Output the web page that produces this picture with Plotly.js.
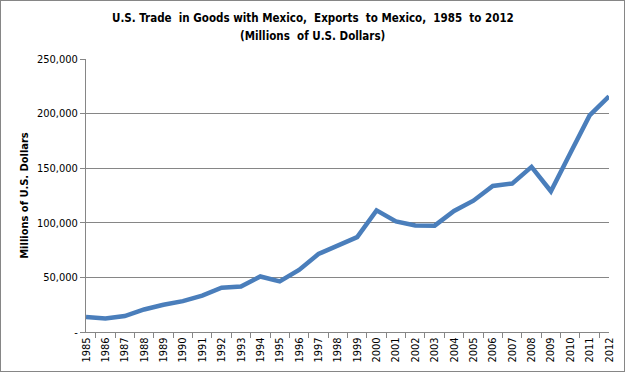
<!DOCTYPE html>
<html>
<head>
<meta charset="utf-8">
<script src="https://cdn.plot.ly/plotly-3.0.1.min.js"></script>
<style>
html,body{margin:0;padding:0;background:#fff;}
#wrap{width:625px;height:372px;box-sizing:border-box;border:1px solid #868686;overflow:hidden;}
#chart{width:623px;height:370px;}
</style>
</head>
<body>
<div id="wrap"><div id="chart"></div></div>
<script>
var years = ["1985","1986","1987","1988","1989","1990","1991","1992","1993","1994","1995","1996","1997","1998","1999","2000","2001","2002","2003","2004","2005","2006","2007","2008","2009","2010","2011","2012"];
var exportsToMexico = [13635,12392,14582,20629,24982,28279,33277,40592,41581,50844,46292,56792,71388,78773,86909,111349,101297,97531,97412,110826,120248,133722,135918,151220,128892,163665,198289,215875];
var yTickVals = [0,50000,100000,150000,200000,250000];
var yTickText = ["-","50,000","100,000","150,000","200,000","250,000"];
var titleLine1 = 'U.S. Trade  in Goods with Mexico,  Exports  to Mexico,  1985  to 2012';
var titleLine2 = '(Millions  of U.S. Dollars)';

var fontFam = '"DejaVu Sans Condensed","Liberation Sans Narrow","Arial Narrow",sans-serif';

var trace = {
  x: years,
  y: exportsToMexico,
  type: 'scatter',
  mode: 'lines',
  line: {color: '#4a7ebb', width: 4.5}
};

var layout = {
  width: 623, height: 370,
  margin: {l: 85, r: 15, t: 58, b: 39},
  paper_bgcolor: '#ffffff',
  plot_bgcolor: '#ffffff',
  showlegend: false,
  annotations: [
    {text: '<b>' + titleLine1 + '</b>', xref: 'paper', yref: 'paper', x: 0.434, y: 1, yshift: 41,
     xanchor: 'center', yanchor: 'middle', showarrow: false,
     font: {family: fontFam, size: 11.5, color: '#000000'}},
    {text: '<b>' + titleLine2 + '</b>', xref: 'paper', yref: 'paper', x: 0.434, y: 1, yshift: 23,
     xanchor: 'center', yanchor: 'middle', showarrow: false,
     font: {family: fontFam, size: 11.5, color: '#000000'}}
  ],
  xaxis: {
    type: 'category',
    tickson: 'boundaries',
    ticks: 'outside', ticklen: 5, tickcolor: '#868686', tickwidth: 1,
    tickangle: -90,
    tickfont: {family: fontFam, size: 11, color: '#000000'},
    showline: true, linecolor: '#868686', linewidth: 1,
    showgrid: false, zeroline: false,
    fixedrange: true
  },
  yaxis: {
    range: [0, 250000],
    tickvals: yTickVals,
    ticktext: yTickText,
    ticks: 'outside', ticklen: 5, tickcolor: '#868686', tickwidth: 1,
    tickfont: {family: fontFam, size: 11, color: '#000000'},
    showline: true, linecolor: '#868686', linewidth: 1,
    showgrid: true, gridcolor: '#868686', gridwidth: 1,
    zeroline: false,
    title: {
      text: '<b>Millions of U.S. Dollars</b>',
      font: {family: fontFam, size: 11, color: '#000000'},
      standoff: 6
    },
    fixedrange: true
  }
};

Plotly.newPlot('chart', [trace], layout, {displayModeBar: false, staticPlot: true});
</script>
</body>
</html>
